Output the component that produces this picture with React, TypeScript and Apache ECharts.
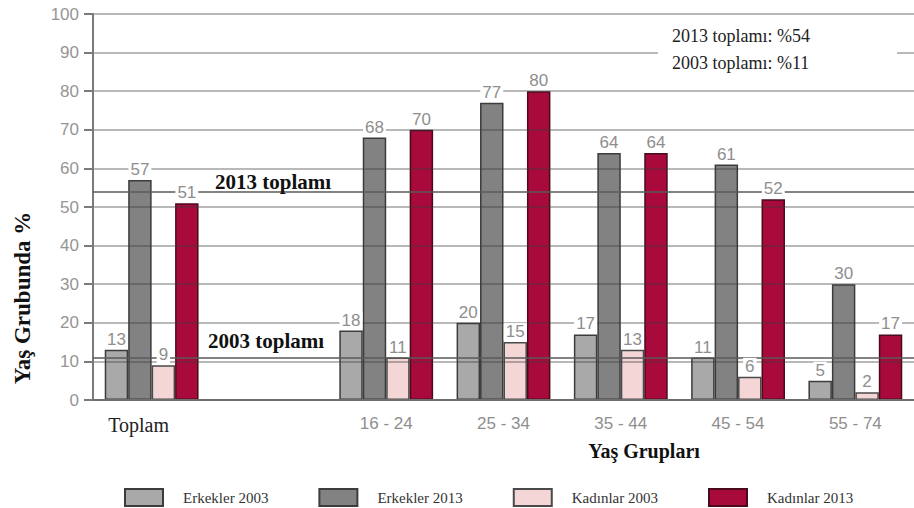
import React, { useEffect, useRef } from "react";
import * as echarts from "echarts";

// Age groups (the empty slot separates the overall total from the age bands)
const categories = ["Toplam", "", "16 - 24", "25 - 34", "35 - 44", "45 - 54", "55 - 74"];

// Share of each age group, percent
const erkekler2003 = [13, "-", 18, 20, 17, 11, 5];
const erkekler2013 = [57, "-", 68, 77, 64, 61, 30];
const kadinlar2003 = [9, "-", 11, 15, 13, 6, 2];
const kadinlar2013 = [51, "-", 70, 80, 64, 52, 17];

const seriesNames = ["Erkekler 2003", "Erkekler 2013", "Kadınlar 2003", "Kadınlar 2013"];
const seriesColors = ["#a9a9a9", "#828282", "#f4d6d6", "#a80a3c"];
const seriesBorders = ["#3c3c3c", "#3c3c3c", "#4a4a4a", "#4a0a1c"];

// Overall totals drawn as reference lines
const total2013 = 54;
const total2003 = 11;

const yMin = 0;
const yMax = 100;
const yInterval = 10;

const SANS = "'Liberation Sans', Arial, sans-serif";
const SERIF = "'Liberation Serif', 'Times New Roman', serif";

export default function App() {
  const ref = useRef<HTMLDivElement>(null);

  useEffect(() => {
    if (!ref.current) return;
    const chart = echarts.init(ref.current, null, { renderer: "svg" });
    const values = [erkekler2003, erkekler2013, kadinlar2003, kadinlar2013];

    // Filled bars sit beneath the grid lines
    const barSeries = values.map((data, i) => ({
      name: seriesNames[i],
      type: "bar",
      xAxisIndex: 0,
      yAxisIndex: 0,
      data,
      z: 2,
      barGap: "0%",
      barCategoryGap: "20%",
      itemStyle: {
        color: seriesColors[i],
        borderColor: seriesBorders[i],
        borderWidth: 1.5,
      },
      emphasis: { disabled: true },
    }));

    // Transparent twins on a hidden axis carry the value labels above the grid lines
    const labelSeries = values.map((data, i) => ({
      name: seriesNames[i],
      type: "bar",
      xAxisIndex: 1,
      yAxisIndex: 0,
      data,
      z: 5,
      barGap: "0%",
      barCategoryGap: "20%",
      itemStyle: { color: "rgba(0,0,0,0)", borderWidth: 0 },
      emphasis: { disabled: true },
      label: {
        show: true,
        position: "top",
        distance: 2,
        formatter: "{c}",
        fontFamily: SANS,
        fontSize: 17,
        color: "#8e8e8e",
        backgroundColor: "#ffffff",
        padding: [0, 2, 0, 2],
        lineHeight: 17,
      },
    }));

    const refLineSeries = {
      name: "totals",
      type: "line",
      xAxisIndex: 0,
      yAxisIndex: 0,
      data: categories.map(() => "-"),
      z: 4,
      silent: true,
      markLine: {
        silent: true,
        symbol: ["none", "none"],
        label: { show: false },
        lineStyle: { color: "#5a5a5a", width: 1.6, type: "solid" },
        data: [{ yAxis: total2013 }, { yAxis: total2003 }],
      },
    };

    chart.setOption({
      animation: false,
      backgroundColor: "#ffffff",
      grid: { left: 93, right: -8, top: 14, bottom: 108 },
      xAxis: [
        {
          type: "category",
          data: categories,
          z: 3,
          axisLine: { show: true, lineStyle: { color: "#6e6e6e", width: 2 } },
          axisTick: { show: false },
          axisLabel: {
            interval: 0,
            margin: 15,
            fontFamily: SANS,
            fontSize: 17,
            color: "#8e8e8e",
            formatter: (v: string) => (v === "Toplam" ? `{t|${v}}` : v),
            rich: {
              t: {
                fontFamily: SERIF,
                fontSize: 20,
                color: "#222222",
                padding: [0, 26, 0, 0],
              },
            },
          },
        },
        {
          type: "category",
          data: categories,
          show: false,
        },
      ],
      yAxis: {
        type: "value",
        min: yMin,
        max: yMax,
        interval: yInterval,
        z: 3,
        axisLine: { show: true, lineStyle: { color: "#7a7a7a", width: 2 } },
        axisTick: { show: true, length: 9, lineStyle: { color: "#7a7a7a", width: 2 } },
        axisLabel: {
          margin: 14,
          fontFamily: SANS,
          fontSize: 17,
          color: "#959595",
        },
        splitLine: { show: true, lineStyle: { color: "rgba(60,60,60,0.48)", width: 1.6 } },
      },
      legend: {
        data: seriesNames,
        left: 119,
        top: 483,
        itemWidth: 38,
        itemHeight: 17,
        itemGap: 50,
        icon: "rect",
        selectedMode: false,
        textStyle: {
          fontFamily: SERIF,
          fontSize: 15,
          color: "#333333",
          padding: [0, 0, 0, 15],
        },
      },
      series: [...barSeries, refLineSeries, ...labelSeries],
    });

    const y2013 = chart.convertToPixel({ yAxisIndex: 0 }, total2013) as number;
    const y2003 = chart.convertToPixel({ yAxisIndex: 0 }, total2003) as number;

    chart.setOption({
      graphic: [
        {
          type: "rect",
          z: 50,
          shape: { x: 658, y: 22, width: 239, height: 62 },
          style: { fill: "#ffffff" },
        },
        {
          type: "text",
          z: 51,
          x: 672,
          y: 36,
          style: {
            text: `2013 toplamı: %${total2013}`,
            fontFamily: SERIF,
            fontSize: 18,
            fill: "#222222",
            textVerticalAlign: "middle",
          },
        },
        {
          type: "text",
          z: 51,
          x: 672,
          y: 63,
          style: {
            text: `2003 toplamı: %${total2003}`,
            fontFamily: SERIF,
            fontSize: 18,
            fill: "#222222",
            textVerticalAlign: "middle",
          },
        },
        {
          type: "text",
          z: 51,
          x: 215,
          y: y2013 - 10,
          style: {
            text: "2013 toplamı",
            fontFamily: SERIF,
            fontWeight: "bold",
            fontSize: 21,
            fill: "#111111",
            textVerticalAlign: "middle",
          },
        },
        {
          type: "text",
          z: 51,
          x: 208,
          y: y2003 - 17,
          style: {
            text: "2003 toplamı",
            fontFamily: SERIF,
            fontWeight: "bold",
            fontSize: 21,
            fill: "#111111",
            textVerticalAlign: "middle",
          },
        },
        {
          type: "text",
          z: 51,
          x: 644,
          y: 451,
          style: {
            text: "Yaş Grupları",
            fontFamily: SERIF,
            fontWeight: "bold",
            fontSize: 20,
            fill: "#111111",
            textAlign: "center",
            textVerticalAlign: "middle",
          },
        },
        {
          type: "text",
          z: 51,
          x: 22,
          y: 298,
          rotation: Math.PI / 2,
          style: {
            text: "Yaş Grubunda %",
            fontFamily: SERIF,
            fontWeight: "bold",
            fontSize: 23,
            fill: "#111111",
            textAlign: "center",
            textVerticalAlign: "middle",
          },
        },
      ],
    });

    return () => chart.dispose();
  }, []);

  return (
    <div
      ref={ref}
      style={{ position: "fixed", left: 0, top: 0, width: 914, height: 508, background: "#fff" }}
    />
  );
}
